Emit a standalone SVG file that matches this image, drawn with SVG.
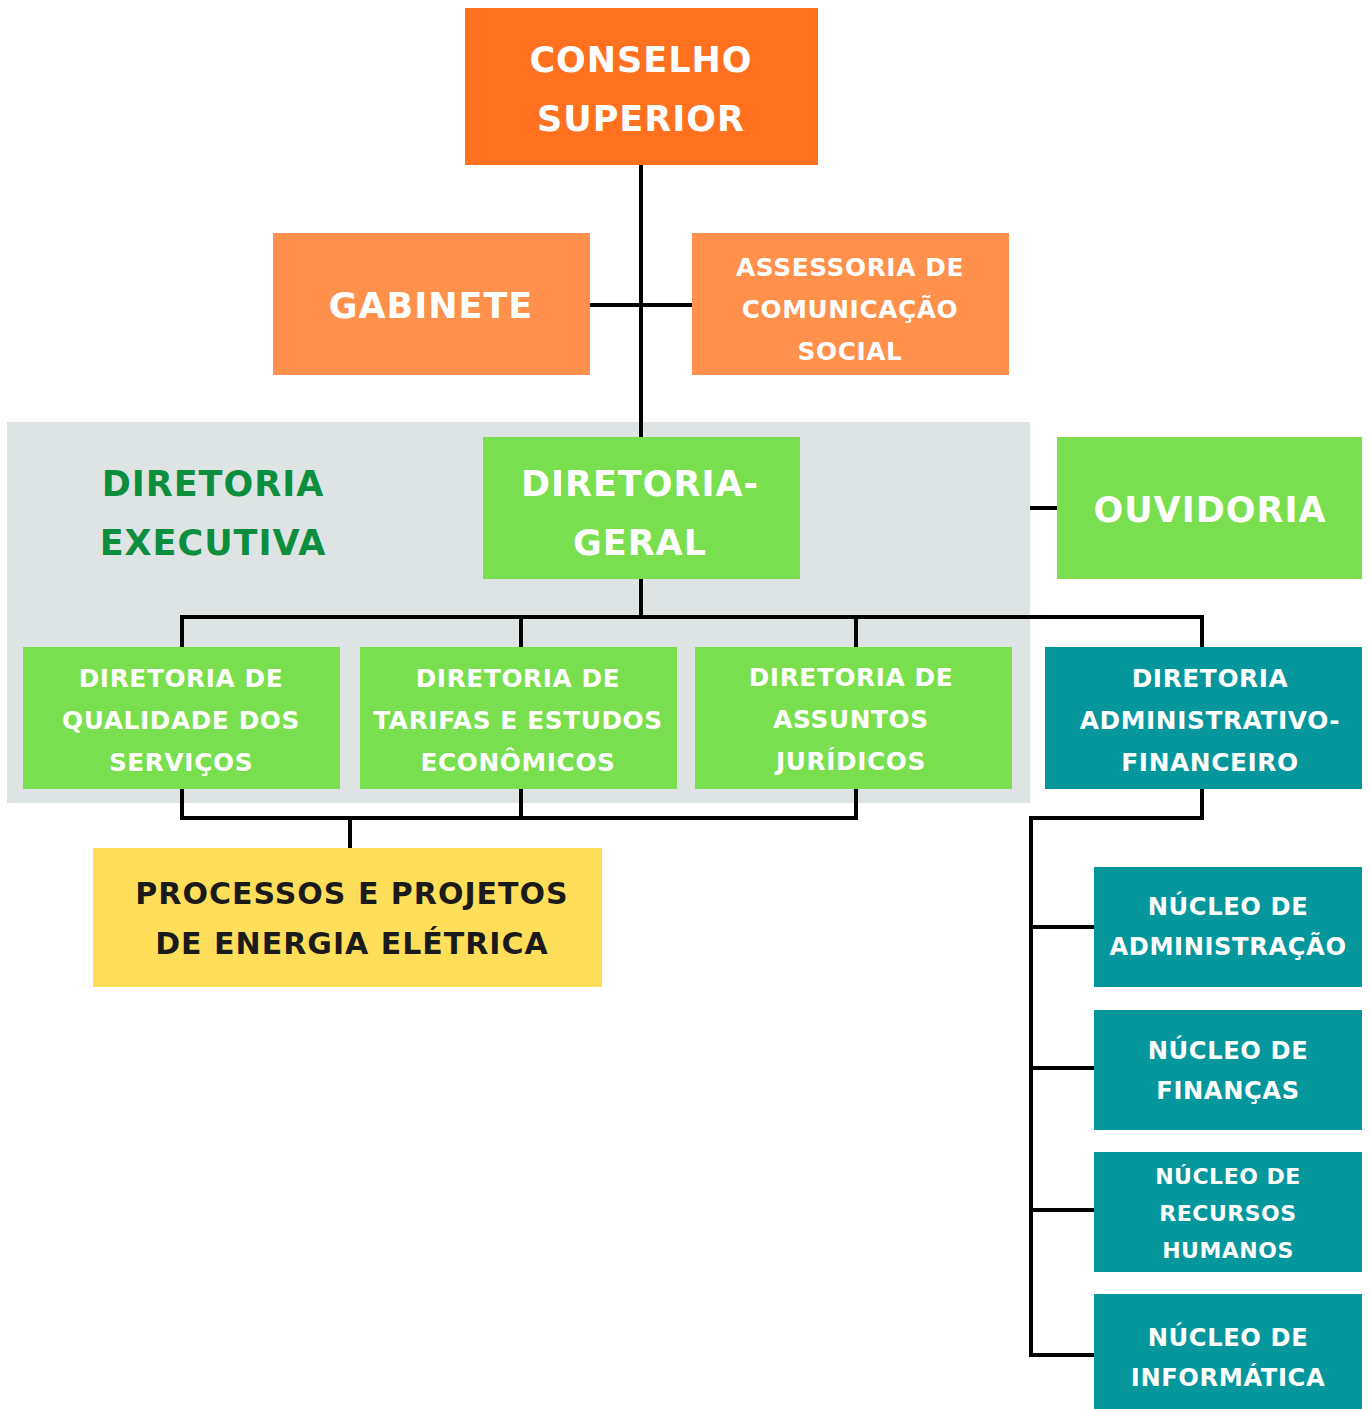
<svg xmlns="http://www.w3.org/2000/svg" width="1371" height="1409" viewBox="0 0 1371 1409">
<style>
text{font-family:"DejaVu Sans","Liberation Sans",sans-serif;font-weight:bold;text-anchor:middle;fill:#ffffff}
.ln{stroke:#000;stroke-width:4;fill:none;stroke-linejoin:miter;stroke-linecap:square}
.t36{font-size:35px;letter-spacing:1px}
.t24{font-size:24.8px;letter-spacing:0.6px}
.tn{font-size:24.2px;letter-spacing:0.6px}
.t22{font-size:22px;letter-spacing:0.5px}
.org{fill:#FF701F}.lor{fill:#FF914D}.grn{fill:#7ADF4E}.teal{fill:#05979C}.yel{fill:#FFDE59}
</style>
<rect width="1371" height="1409" fill="#ffffff"/>
<rect id="bg-executiva" x="7" y="422" width="1023" height="381" fill="#DEE3E3"/>
<g id="connectors">
<path class="ln" d="M641 165 V437"/>
<path class="ln" d="M590 305 H692"/>
<path class="ln" d="M1032 508 H1057"/>
<path class="ln" d="M641 579 V617 M182 647 V617 H1202 V647 M521 617 V647 M856 620 V647"/>
<path class="ln" d="M182 789 V818 H856 V789 M521 789 V818 M350 818 V848"/>
<path class="ln" d="M1202 789 V818 H1031 V1355 H1094 M1031 927 H1094 M1031 1068 H1094 M1031 1210 H1094"/>
</g>
<g id="conselho"><rect class="org" x="465" y="8" width="353" height="157"/>
<text class="t36" x="641" y="72">CONSELHO</text><text class="t36" x="641" y="131">SUPERIOR</text></g>
<g id="gabinete"><rect class="lor" x="273" y="233" width="317" height="142"/>
<text class="t36" x="431" y="318">GABINETE</text></g>
<g id="assessoria"><rect class="lor" x="692" y="233" width="317" height="142"/>
<text class="t24" x="850" y="276">ASSESSORIA DE</text><text class="t24" x="850" y="318">COMUNICAÇÃO</text><text class="t24" x="850" y="360">SOCIAL</text></g>
<g id="diretoria-executiva"><text class="t36" x="213" y="496" style="fill:#0B8E3E">DIRETORIA</text><text class="t36" x="213" y="555" style="fill:#0B8E3E">EXECUTIVA</text></g>
<g id="diretoria-geral"><rect class="grn" x="483" y="437" width="317" height="142"/>
<text class="t36" x="640" y="496">DIRETORIA-</text><text class="t36" x="640" y="555">GERAL</text></g>
<g id="ouvidoria"><rect class="grn" x="1057" y="437" width="305" height="142"/>
<text class="t36" x="1210" y="522">OUVIDORIA</text></g>
<g id="dir-qualidade"><rect class="grn" x="23" y="647" width="317" height="142"/>
<text class="t24" x="181" y="687">DIRETORIA DE</text><text class="t24" x="181" y="729">QUALIDADE DOS</text><text class="t24" x="181" y="771">SERVIÇOS</text></g>
<g id="dir-tarifas"><rect class="grn" x="360" y="647" width="317" height="142"/>
<text class="t24" x="518" y="687">DIRETORIA DE</text><text class="t24" x="518" y="729">TARIFAS E ESTUDOS</text><text class="t24" x="518" y="771">ECONÔMICOS</text></g>
<g id="dir-juridicos"><rect class="grn" x="695" y="647" width="317" height="142"/>
<text class="t24" x="851" y="686">DIRETORIA DE</text><text class="t24" x="851" y="728">ASSUNTOS</text><text class="t24" x="851" y="770">JURÍDICOS</text></g>
<g id="dir-administrativo"><rect class="teal" x="1045" y="647" width="317" height="142"/>
<text class="t24" x="1210" y="687">DIRETORIA</text><text class="t24" x="1210" y="729">ADMINISTRATIVO-</text><text class="t24" x="1210" y="771">FINANCEIRO</text></g>
<g id="processos"><rect class="yel" x="93" y="848" width="509" height="139"/>
<text class="t36" x="352" y="904" style="fill:#1A1A1A;font-size:30px">PROCESSOS E PROJETOS</text><text class="t36" x="352" y="954" style="fill:#1A1A1A;font-size:30px">DE ENERGIA ELÉTRICA</text></g>
<g id="nucleo-administracao"><rect class="teal" x="1094" y="867" width="268" height="120"/>
<text class="tn" x="1228" y="915">NÚCLEO DE</text><text class="tn" x="1228" y="955">ADMINISTRAÇÃO</text></g>
<g id="nucleo-financas"><rect class="teal" x="1094" y="1010" width="268" height="120"/>
<text class="tn" x="1228" y="1059">NÚCLEO DE</text><text class="tn" x="1228" y="1099">FINANÇAS</text></g>
<g id="nucleo-rh"><rect class="teal" x="1094" y="1152" width="268" height="120"/>
<text class="t22" x="1228" y="1184">NÚCLEO DE</text><text class="t22" x="1228" y="1221">RECURSOS</text><text class="t22" x="1228" y="1258">HUMANOS</text></g>
<g id="nucleo-informatica"><rect class="teal" x="1094" y="1294" width="268" height="115"/>
<text class="tn" x="1228" y="1346">NÚCLEO DE</text><text class="tn" x="1228" y="1386">INFORMÁTICA</text></g>
</svg>
